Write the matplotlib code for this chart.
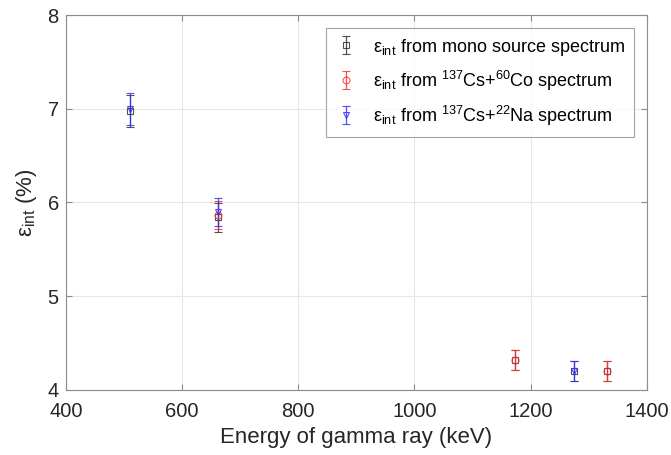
import matplotlib
matplotlib.use("Agg")
import matplotlib.pyplot as plt
import numpy as np

plt.rcParams['font.family'] = ['Liberation Sans', 'DejaVu Sans']
plt.rcParams['mathtext.fontset'] = 'custom'
plt.rcParams['mathtext.rm'] = 'Liberation Sans'
plt.rcParams['mathtext.it'] = 'Liberation Sans'

# Data
mono_E = [511, 662, 1173, 1275, 1332]
mono_eps = [6.98, 5.84, 4.32, 4.20, 4.20]
mono_err = [0.17, 0.15, 0.11, 0.11, 0.11]

co_E = [662, 1173, 1332]
co_eps = [5.87, 4.32, 4.20]
co_err = [0.15, 0.11, 0.11]

na_E = [511, 662, 1275]
na_eps = [7.00, 5.90, 4.20]
na_err = [0.17, 0.15, 0.11]

fig = plt.figure(figsize=(6.71, 4.55), dpi=100)
ax = fig.add_axes([0.098, 0.143, 0.866, 0.824])

ax.errorbar(mono_E, mono_eps, yerr=mono_err, fmt='s', color='#333333', ms=4,
            mfc='none', mew=0.8, elinewidth=0.9, capsize=3, alpha=0.85,
            label='ε$_{\\mathrm{int}}$ from mono source spectrum')
ax.errorbar(co_E, co_eps, yerr=co_err, fmt='o', color='#ff3030', ms=5,
            mfc='none', mew=0.8, elinewidth=0.9, capsize=3, alpha=0.85,
            label='ε$_{\\mathrm{int}}$ from $^{\\mathrm{137}}$Cs+$^{\\mathrm{60}}$Co spectrum')
ax.errorbar(na_E, na_eps, yerr=na_err, fmt='v', color='#3030ff', ms=5,
            mfc='none', mew=0.8, elinewidth=0.9, capsize=3, alpha=0.85,
            label='ε$_{\\mathrm{int}}$ from $^{\\mathrm{137}}$Cs+$^{\\mathrm{22}}$Na spectrum')

ax.set_xlim(400, 1400)
ax.set_ylim(4, 8)
ax.set_xticks([400, 600, 800, 1000, 1200, 1400])
ax.set_yticks([4, 5, 6, 7, 8])
ax.grid(True, color='#e6e6e6', linewidth=0.8)
ax.set_axisbelow(True)
for s in ax.spines.values():
    s.set_color('#8c8c8c')
    s.set_linewidth(0.8)
ax.tick_params(direction='in', top=True, right=True, length=4, color='#8c8c8c',
               labelsize=14.5, labelcolor='#262626')
ax.tick_params(axis='x', pad=9)
ax.tick_params(axis='y', pad=5)
ax.set_xlabel('Energy of gamma ray (keV)', fontsize=16, color='#262626', labelpad=4)
ax.set_ylabel('ε$_{\\mathrm{int}}$ (%)', fontsize=16, color='#262626', labelpad=6)

leg = ax.legend(loc='upper right', fontsize=13, frameon=True, fancybox=False,
                edgecolor='#8c8c8c', borderaxespad=0.7, handlelength=1.2,
                labelspacing=0.6, borderpad=0.5, handletextpad=0.9)
leg.get_frame().set_linewidth(0.8)

fig.savefig('out.png', dpi=100)
